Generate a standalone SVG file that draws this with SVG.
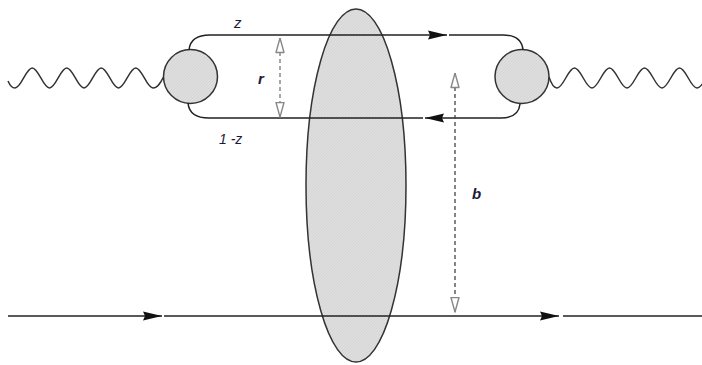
<svg xmlns="http://www.w3.org/2000/svg" width="702" height="365" viewBox="0 0 702 365">
  <style>
    .line { fill: none; stroke: #222; stroke-width: 1.5; }
    .wave { fill: none; stroke: #333; stroke-width: 1.5; }
    .blob { fill: url(#hatch); stroke: #333; stroke-width: 1.5; }
    .dashr { fill: none; stroke: #8a8a8a; stroke-width: 1.5; stroke-dasharray: 4 3; }
    .dashb { fill: none; stroke: #444; stroke-width: 1.3; stroke-dasharray: 4 3; }
    .lbl { font-family: "Liberation Sans", Arial, sans-serif; font-style: italic; fill: #1a1a3a; }
  </style>
  <defs>
    <pattern id="hatch" patternUnits="userSpaceOnUse" width="3" height="3">
      <rect width="3" height="3" fill="#dedede"/>
      <path d="M0,3 L3,0" stroke="#cfcfcf" stroke-width="0.6"/>
    </pattern>
    <marker id="arr" markerUnits="userSpaceOnUse" viewBox="0 0 19 10" markerWidth="19" markerHeight="10" refX="19" refY="5" orient="auto">
      <path d="M0,0.5 L19,5 L0,9.5 L2,5 z" fill="#111"/>
    </marker>
    <marker id="open" markerUnits="userSpaceOnUse" viewBox="0 0 16 10" markerWidth="16" markerHeight="10" refX="15.5" refY="5" orient="auto-start-reverse">
      <path d="M1,1 L15.5,5 L1,9 z" fill="#fff" stroke="#888" stroke-width="1.4" stroke-linejoin="round"/>
    </marker>
  </defs>
  <rect width="702" height="365" fill="#fff"/>

  <g id="target">
    <ellipse class="blob" cx="356" cy="185.5" rx="50" ry="176.5"/>
  </g>

  <g id="vertexL">
    <circle class="blob" cx="190.5" cy="76.5" r="27"/>
  </g>
  <g id="vertexR">
    <circle class="blob" cx="522" cy="76.5" r="27"/>
  </g>

  <g id="connectors">
    <!-- photon waves -->
    <path class="wave" d="M8,81 Q11,88 15,88 C21.3,88 26,68 32.25,68 C38.5,68 43.2,88 49.5,88 C55.8,88 60.5,68 66.75,68 C73,68 77.7,88 84,88 C90.3,88 95,68 101.25,68 C107.5,68 112.2,88 118.5,88 C124.8,88 129.5,68 135.75,68 C142,68 146.7,88 153,88 C158,88 161,82 163.5,77"/>
    <path class="wave" d="M549,77 C551,83 553,88 557,88 C563.4,88 568.1,68 574.5,68 C580.9,68 585.6,88 592,88 C598.4,88 603.1,68 609.5,68 C615.9,68 620.6,88 627,88 C633.4,88 638.1,68 644.5,68 C650.9,68 655.6,88 662,88 C668.4,88 673.1,68 679.5,68 C685.9,68 690.6,88 697,88 C699,88 701,86 703,83"/>
    <!-- quark loop top (z) -->
    <path class="line" d="M189,50 C190,39 198,35 210,35 L447,35" marker-end="url(#arr)"/>
    <path class="line" d="M449,35 L503,35 C515,35 522,40 523,50"/>
    <!-- quark loop bottom (1-z) -->
    <path class="line" d="M188,103 C189,114 197,118 209,118 L423,118"/>
    <path class="line" d="M520,104 C519,114 512,118 501,118 L425,118" marker-end="url(#arr)"/>
    <!-- bottom line -->
    <path class="line" d="M8,316 L162,316" marker-end="url(#arr)"/>
    <path class="line" d="M164,316 L559,316" marker-end="url(#arr)"/>
    <path class="line" d="M563,316 L702,316"/>
    <!-- dimension arrows -->
    <path class="dashr" d="M280,38 L280,117" marker-start="url(#open)" marker-end="url(#open)"/>
    <path class="dashb" d="M455,73 L455,312" marker-start="url(#open)" marker-end="url(#open)"/>
  </g>

  <g id="labels">
    <text class="lbl" x="234" y="28" font-size="15">z</text>
    <text class="lbl" x="258" y="84" font-size="15" font-weight="bold">r</text>
    <text class="lbl" x="219" y="144" font-size="14" fill="#4a4a6a">1 -z</text>
    <text class="lbl" x="472" y="199" font-size="15" font-weight="bold">b</text>
  </g>
</svg>
